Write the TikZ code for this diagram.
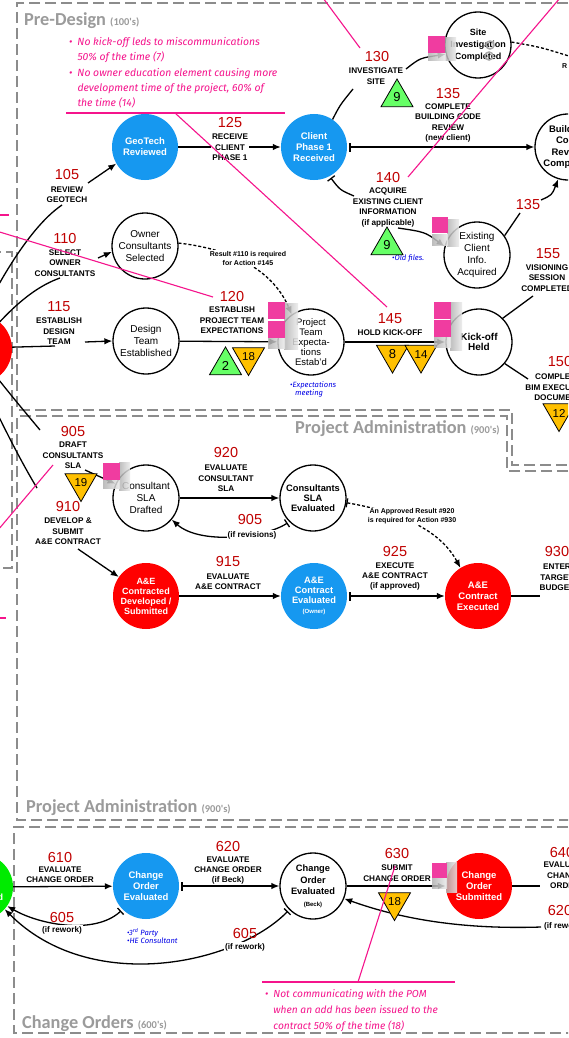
\documentclass[tikz,border=0pt]{standalone}
\usepackage{fontspec}
\setmainfont{Liberation Sans}
\newfontfamily\calfnt{Carlito}
\newfontfamily\handfnt{Fira Sans}
\usetikzlibrary{arrows.meta,shapes.geometric}
\definecolor{cblue}{RGB}{22,152,240}
\definecolor{cred}{RGB}{255,0,0}
\definecolor{cgreen}{RGB}{0,235,0}
\definecolor{tgreen}{RGB}{102,255,102}
\definecolor{tyellow}{RGB}{255,192,0}
\definecolor{pinkc}{RGB}{245,20,140}
\definecolor{pinksq}{RGB}{240,60,160}
\definecolor{numred}{RGB}{192,0,0}
\definecolor{framegray}{RGB}{140,140,140}
\definecolor{titlegray}{RGB}{155,155,155}
\definecolor{noteblue}{RGB}{0,0,230}
\newcommand\myNum{\fontsize{14.5}{15}\selectfont}
\newcommand\myLab{\bfseries\fontsize{8.2}{10.4}\selectfont}
\newcommand\myCirc{\fontsize{10}{11.8}\selectfont}
\newcommand\myCircB{\bfseries\fontsize{9.5}{11.2}\selectfont}
\newcommand\myTri{\fontsize{13}{13}\selectfont}
\newcommand\myTriS{\fontsize{11.5}{12}\selectfont}
\newcommand\myNote{\handfnt\itshape\fontsize{10.4}{15.3}\selectfont}
\newcommand\myNoteB{\handfnt\itshape\fontsize{10.2}{16}\selectfont}
\newcommand\myBNote{\handfnt\itshape\fontsize{7.6}{8.5}\selectfont}
\newcommand\myDNote{\bfseries\fontsize{7}{9}\selectfont}
\newcommand\myTit{\calfnt\bfseries\fontsize{18.3}{20}\selectfont}
\newcommand\myTitS{\calfnt\bfseries\fontsize{10.5}{12}\selectfont}
\newcommand\mySmall{\fontsize{6}{7}\selectfont}
\begin{document}
\begin{tikzpicture}[x=1pt,y=-1pt,
  >={Latex[length=8pt,width=6.5pt]},
  frame/.style={draw=framegray,line width=2.6pt,dash pattern=on 11pt off 5pt},
  circ/.style={circle,minimum size=66pt,inner sep=0pt,align=center},
  wcirc/.style={circ,draw=black,line width=1.3pt,fill=white,font=\myCirc},
  ccirc/.style={circ,text=white,font=\myCircB},
  num/.style={text=numred,font=\myNum,inner sep=0pt},
  lab/.style={font=\myLab,align=center,inner sep=0pt},
  labw/.style={lab,fill=white,inner sep=1pt},
  plain/.style={line width=1.3pt},
  conn/.style={line width=1.3pt,->},
  barconn/.style={line width=1.3pt,{Bar[width=9pt]}->,shorten <=2pt},
  dconn/.style={line width=1.3pt,->,dash pattern=on 3pt off 2pt},
  tri/.style={regular polygon,regular polygon sides=3,draw=black,line width=0.8pt,minimum size=37pt,inner sep=0pt,font=\myTri},
  gtri/.style={tri,fill=tgreen},
  ytri/.style={tri,fill=tyellow,shape border rotate=180},
  pinkline/.style={draw=pinkc,line width=1.1pt},
  psq/.style={fill=pinksq,draw=none,minimum size=17pt,inner sep=0pt,anchor=north west},
  blur/.style={left color=gray!60,right color=gray!15,draw=none,inner sep=0pt,anchor=north west,opacity=0.85},
  note/.style={text=pinkc,font=\myNote,inner sep=0pt},
  bnote/.style={text=noteblue,font=\myBNote,align=left,inner sep=0pt},
  dnote/.style={font=\myDNote,align=center,inner sep=1pt,fill=white},
  title/.style={text=titlegray,font=\myTit,inner sep=0pt,anchor=base west}]
\useasboundingbox (0,0) rectangle (568,1038);
\fill[white] (0,0) rectangle (568,1038);
\begin{scope}
\clip (0,0) rectangle (568,1038);
% ---------- frames
\draw[frame] (600,3) -- (17,3) -- (17,410) -- (512,410) -- (512,465) -- (600,465);
\draw[frame] (600,471) -- (507,471) -- (507,416) -- (17,416) -- (17,820) -- (600,820);
\draw[frame] (600,827) -- (14,827) -- (14,1033) -- (600,1033);
\draw[frame] (-10,252) -- (12,252) -- (12,568) -- (-10,568);
% ---------- titles
\node[title] (tPD) at (24,25.5) {Pre-Design {\myTitS(100's)}};
\node[title] (tPA1) at (295,433) {Project Administration {\myTitS(900's)}};
\node[title] (tPA2) at (26,812) {Project Administration {\myTitS(900's)}};
\node[title] (tCO) at (22,1028) {Change Orders {\myTitS(600's)}};
% ---------- circles
\node[ccirc,fill=cblue] (geo) at (145,147) {GeoTech\\Reviewed};
\node[ccirc,fill=cblue] (cp1) at (314,147) {Client\\Phase 1\\Received};
\node[wcirc,font=\bfseries\fontsize{9}{12}\selectfont] (site) at (478,45) {Site\\Investigation\\Completed};
\node[wcirc,font=\myCircB] (bcr) at (568,147) {Building\\Code\\Review\\Completed};
\node[wcirc] (eci) at (477,255) {Existing\\Client\\Info.\\Acquired};
\node[wcirc] (ocs) at (145,246) {Owner\\Consultants\\Selected};
\node[wcirc] (dte) at (146,341) {Design\\Team\\Established};
\node[wcirc,font=\fontsize{9.5}{10}\selectfont] (pte) at (311,342) {Project\\Team\\Expecta-\\tions\\Estab'd};
\node[wcirc,font=\bfseries\fontsize{10}{10.5}\selectfont] (koh) at (479,342) {Kick-off\\Held};
\node[circ,fill=cred,minimum size=70pt] (redL) at (-23,349) {};
\node[wcirc] (csd) at (146,498) {Consultant\\SLA\\Drafted};
\node[wcirc,font=\bfseries\fontsize{9.3}{10}\selectfont] (cse) at (313,498) {Consultants\\SLA\\Evaluated};
\node[ccirc,fill=cred,font=\bfseries\fontsize{9}{10}\selectfont] (aed) at (146,596) {A\&E\\Contracted\\Developed /\\Submitted};
\node[ccirc,fill=cblue,font=\bfseries\fontsize{9.3}{10}\selectfont] (aee) at (314,596) {A\&E\\Contract\\Evaluated\\{\mySmall(Owner)}};
\node[ccirc,fill=cred] (aex) at (478,596) {A\&E\\Contract\\Executed};
\node[ccirc,fill=cgreen,font=\bfseries\fontsize{9}{11.5}\selectfont] (greenL) at (-20,887) {Change\\Order\\Requested};
\node[ccirc,fill=cblue] (coe) at (146,886) {Change\\Order\\Evaluated};
\node[wcirc,font=\bfseries\fontsize{9.3}{11.5}\selectfont] (cob) at (313,886) {Change\\Order\\Evaluated\\{\mySmall(Beck)}};
\node[ccirc,fill=cred] (cos) at (479,886) {Change\\Order\\Submitted};
% ---------- free ends of connectors
\coordinate (c105a) at (62,205); \coordinate (c105b) at (88,183);
\coordinate (c110a) at (60,278); \coordinate (c110b) at (98,258);
\coordinate (c115a) at (55,346); \coordinate (c115b) at (85,342);
\coordinate (c130a) at (353,89); \coordinate (c130b) at (406,69);
\coordinate (c140a) at (354,196); \coordinate (c140b) at (398,228);
\coordinate (c135a) at (520,213); \coordinate (c135b) at (541,200);
\coordinate (c155) at (533,296); \coordinate (c150) at (528,379);
\coordinate (siteR) at (572,57);
\coordinate (c905a) at (40,430); \coordinate (c905b) at (85,470);
\coordinate (c910a) at (37,488); \coordinate (c910b) at (78,549);
\coordinate (c930) at (540,596);
\coordinate (c640) at (540,886); \coordinate (c620) at (541,927);
% ---------- connectors: pre-design
\draw[plain] (redL.80) .. controls (-10,300) and (25,230) .. (c105a);
\draw[conn] (c105b) -- (geo.210);
\draw[plain] (redL.50) .. controls (20,300) and (40,285) .. (c110a);
\draw[conn] (c110b) -- (ocs.190);
\draw[plain] (redL.3) -- (c115a);
\draw[conn] (c115b) -- (dte.180);
\draw[conn] (geo) -- (cp1);
\draw[barconn] (cp1) -- (bcr);
\draw[plain] (cp1.56) .. controls (340,105) .. (c130a);
\draw[conn] (c130b) .. controls (420,58) .. (site.196);
\draw[plain,{Bar[width=9pt]}-,shorten <=2pt] (cp1.-62) .. controls (340,190) .. (c140a);
\draw[conn] (c140b) .. controls (425,232) .. (eci.165);
\draw[plain] (eci.35) .. controls (512,225) .. (c135a);
\draw[conn] (c135b) .. controls (552,195) .. (bcr.-107);
\draw[plain,dash pattern=on 3pt off 2pt] (site.5) .. controls (540,47) .. (siteR);
\draw[dconn] (ocs.5) .. controls (240,250) and (275,275) .. (pte.125);
\draw[conn] (dte) -- (pte);
\draw[conn] (pte) -- (koh);
\draw[plain] (koh.45) -- (c155);
\draw[plain] (koh.-40) -- (c150);
% ---------- connectors: project administration
\draw[plain] (redL.-55) .. controls (15,400) .. (c905a);
\draw[conn] (c905b) -- (csd.155);
\draw[plain] (redL.-80) .. controls (0,420) and (20,460) .. (c910a);
\draw[conn] (c910b) -- (aed.145);
\draw[conn] (csd) -- (cse);
\draw[barconn] (cse.-135) .. controls (265,538) and (200,545) .. (csd.-40);
\draw[dconn,{Bar[width=9pt]}->] (cse.-8) .. controls (400,512) and (440,530) .. (aex.122);
\draw[conn] (aed) -- (aee);
\draw[barconn] (aee) -- (aex);
\draw[plain] (aex) -- (c930);
% ---------- connectors: change orders
\draw[conn] (greenL) -- (coe);
\draw[barconn] (coe) -- (cob);
\draw[barconn] (coe.-135) .. controls (95,935) and (40,925) .. (greenL.-35);
\draw[barconn] (cob.-135) .. controls (235,965) and (90,995) .. (greenL.-42);
\draw[conn] (cob) -- (cos);
\draw[plain] (cos) -- (c640);
\draw[conn] (c620) .. controls (450,930) and (390,915) .. (cob.-22);
% ---------- action labels
\node[num] (n105) at (67,175) {105};
\node[lab] (t105) at (67,195) {REVIEW\\GEOTECH};
\node[num] (n110) at (65,239) {110};
\node[lab] (t110) at (65,263) {SELECT\\OWNER\\CONSULTANTS};
\node[num] (n115) at (59,307) {115};
\node[lab] (t115) at (59,331.5) {ESTABLISH\\DESIGN\\TEAM};
\node[num] (n120) at (232,297) {120};
\node[lab] (t120) at (232,320.5) {ESTABLISH\\PROJECT TEAM\\EXPECTATIONS};
\node[num] (n125) at (230,123) {125};
\node[labw] (t125) at (230,147.5) {RECEIVE\\CLIENT\\PHASE 1};
\node[num] (n130) at (377,57) {130};
\node[lab] (t130) at (376,76) {INVESTIGATE\\SITE};
\node[num] (n135) at (448,94) {135};
\node[lab] (t135) at (448,123) {COMPLETE\\BUILDING CODE\\REVIEW\\(new client)};
\node[num] (n140) at (388,178) {140};
\node[lab] (t140) at (388,207.5) {ACQUIRE\\EXISTING CLIENT\\INFORMATION\\(if applicable)};
\node[num] (n135b) at (528,205) {135};
\node[num] (n155) at (548,254) {155};
\node[lab] (t155) at (547,278) {VISIONING\\SESSION\\COMPLETED};
\node[num] (n150) at (560,362) {150};
\node[lab] (t150) at (558,387.5) {COMPLETE\\BIM EXECUTION\\DOCUMENT};
\node[num] (n145) at (390,319) {145};
\node[lab] (t145) at (390,333) {HOLD KICK-OFF};
\node[dnote] (r110) at (248,258.5) {Result \#110 is required\\for Action \#145};
\node[font=\myDNote,inner sep=0pt,anchor=west] (siteRt) at (562,66) {R};
\node[num] (n905) at (73,432) {905};
\node[lab] (t905) at (73,455.5) {DRAFT\\CONSULTANTS\\SLA};
\node[num] (n910) at (68,507) {910};
\node[lab] (t910) at (68,531.5) {DEVELOP \&\\SUBMIT\\A\&E CONTRACT};
\node[num] (n920) at (226,453) {920};
\node[lab] (t920) at (226,478.5) {EVALUATE\\CONSULTANT\\SLA};
\node[num] (n905b) at (250,520) {905};
\node[labw] (t905b) at (252,535) {(if revisions)};
\node[num] (n915) at (228,562) {915};
\node[lab] (t915) at (228,582) {EVALUATE\\A\&E CONTRACT};
\node[num] (n925) at (395,552) {925};
\node[lab] (t925) at (395,576.5) {EXECUTE\\A\&E CONTRACT\\(if approved)};
\node[num] (n930) at (557,552) {930};
\node[lab] (t930) at (557,577.5) {ENTER\\TARGET\\BUDGET};
\node[dnote] (r920) at (412,516.5) {An Approved Result \#920\\is required for Action \#930};
\node[num] (n610) at (60,857) {610};
\node[lab] (t610) at (60,875) {EVALUATE\\CHANGE ORDER};
\node[num] (n620) at (228,846) {620};
\node[lab] (t620) at (228,870.5) {EVALUATE\\CHANGE ORDER\\(if Beck)};
\node[num] (n605) at (62,917) {605};
\node[labw] (t605) at (62,930) {(if rework)};
\node[num] (n605b) at (245,933) {605};
\node[labw] (t605b) at (245,947) {(if rework)};
\node[num] (n630) at (397,853) {630};
\node[lab] (t630) at (397,873) {SUBMIT\\CHANGE ORDER};
\node[num] (n640) at (562,852) {640};
\node[lab] (t640) at (565,875.5) {EVALUATE\\CHANGE\\ORDER};
\node[num] (n620b) at (560,910) {620};
\node[labw] (t620b) at (564,926) {(if rework)};
% ---------- blue notes
\node[bnote,anchor=north west] (bn1) at (290,381) {\textbullet Expectations\\\hspace{5pt}meeting};
\node[bnote,anchor=west] (bn2) at (392,258) {\textbullet Old files.};
\node[bnote,anchor=north west] (bn3) at (127,928) {\textbullet 3\textsuperscript{rd} Party\\\textbullet HE Consultant};
% ---------- triangles
\node[gtri] (g9a) at (397,97.5) {9};
\node[gtri] (g9b) at (387,245.5) {9};
\node[gtri] (g2) at (225.5,365.5) {2};
\node[ytri,font=\myTriS] (y18a) at (248.5,357) {18};
\node[ytri] (y8) at (392.5,354.5) {8};
\node[ytri,font=\myTriS] (y14) at (421,354.5) {14};
\node[ytri,font=\myTriS] (y12) at (559,413) {12};
\node[ytri,font=\myTriS] (y19) at (81,483) {19};
\node[ytri,font=\myTriS] (y18b) at (394.5,902) {18};
% ---------- blurred icons and pink markers
\node[blur,minimum width=11pt,minimum height=23pt] (b1) at (445,37) {};
\node[blur,minimum width=18pt,minimum height=7pt] (b1b) at (428,53) {};
\node[draw=gray!70,line width=1.5pt,circle,minimum size=8pt,inner sep=0pt] (ring1) at (490,45) {};
\node[draw=gray!70,line width=1.5pt,circle,minimum size=8pt,inner sep=0pt] (ring2) at (489,56) {};
\node[psq] (p1) at (428,36) {};
\node[blur,minimum width=12pt,minimum height=27pt] (b2) at (447,219) {};
\node[blur,minimum width=16pt,minimum height=11pt] (b2b) at (432,234) {};
\node[psq,minimum size=16pt] (p2) at (432,217) {};
\node[blur,minimum width=14pt,minimum height=46pt] (b3) at (284,303) {};
\node[blur,minimum width=17pt,minimum height=10pt] (b3b) at (268,338) {};
\node[psq] (p3a) at (268,302) {};
\node[psq] (p3b) at (268,321) {};
\node[blur,minimum width=12pt,minimum height=48pt] (b4) at (450,302) {};
\node[blur,minimum width=17pt,minimum height=10pt] (b4b) at (434,337) {};
\node[psq] (p4a) at (434,302) {};
\node[psq] (p4b) at (434,320) {};
\node[blur,minimum width=11pt,minimum height=28pt] (b5) at (119,462) {};
\node[blur,minimum width=17pt,minimum height=8pt] (b5b) at (103,480) {};
\node[psq] (p5) at (103,463) {};
\node[blur,minimum width=11pt,minimum height=30pt] (b6) at (446,862) {};
\node[blur,minimum width=15pt,minimum height=11pt] (b7) at (432,877) {};
\node[psq,minimum size=15pt] (p6) at (432,863) {};
% ---------- pink annotations
\node[note,anchor=base west] (note1) at (69,45.5) {\begin{tabular}[t]{@{}l@{\hspace{5pt}}l@{}}\textbullet & No kick-off leds to miscommunications\\ & 50\% of the time (7)\\ \textbullet & No owner education element causing more\\ & development time of the project, 60\% of\\ & the time (14)\end{tabular}};
\node[note,font=\myNoteB,anchor=base west] (note2) at (265,997) {\begin{tabular}[t]{@{}l@{\hspace{5pt}}l@{}}\textbullet & Not communicating with the POM\\ & when an add has been issued to the\\ & contract 50\% of the time (18)\end{tabular}};
\coordinate (u1a) at (66,113); \coordinate (u1b) at (285,113);
\coordinate (pk1a) at (175,113); \coordinate (pk1b) at (387,307);
\coordinate (pk2a) at (323,-2); \coordinate (pk2b) at (360,48);
\coordinate (pk3a) at (560,-2); \coordinate (pk3b) at (408,177);
\coordinate (pk4a) at (-2,231.5); \coordinate (pk4b) at (213,297);
\coordinate (pk5a) at (-2,530); \coordinate (pk5b) at (53,465);
\coordinate (pk6a) at (-2,215); \coordinate (pk6b) at (9,215);
\coordinate (pk7a) at (-2,618); \coordinate (pk7b) at (6,618);
\coordinate (u2a) at (262,982); \coordinate (u2b) at (455,982);
\coordinate (pk8a) at (358,982); \coordinate (pk8b) at (395,866);
\draw[pinkline] (u1a) -- (u1b);
\draw[pinkline] (pk1a) -- (pk1b);
\draw[pinkline] (pk2a) -- (pk2b);
\draw[pinkline] (pk3a) -- (pk3b);
\draw[pinkline] (pk4a) -- (pk4b);
\draw[pinkline] (pk5a) -- (pk5b);
\draw[pinkline] (pk6a) -- (pk6b);
\draw[pinkline] (pk7a) -- (pk7b);
\draw[pinkline] (u2a) -- (u2b);
\draw[pinkline] (pk8a) -- (pk8b);
\end{scope}
\end{tikzpicture}
\end{document}
